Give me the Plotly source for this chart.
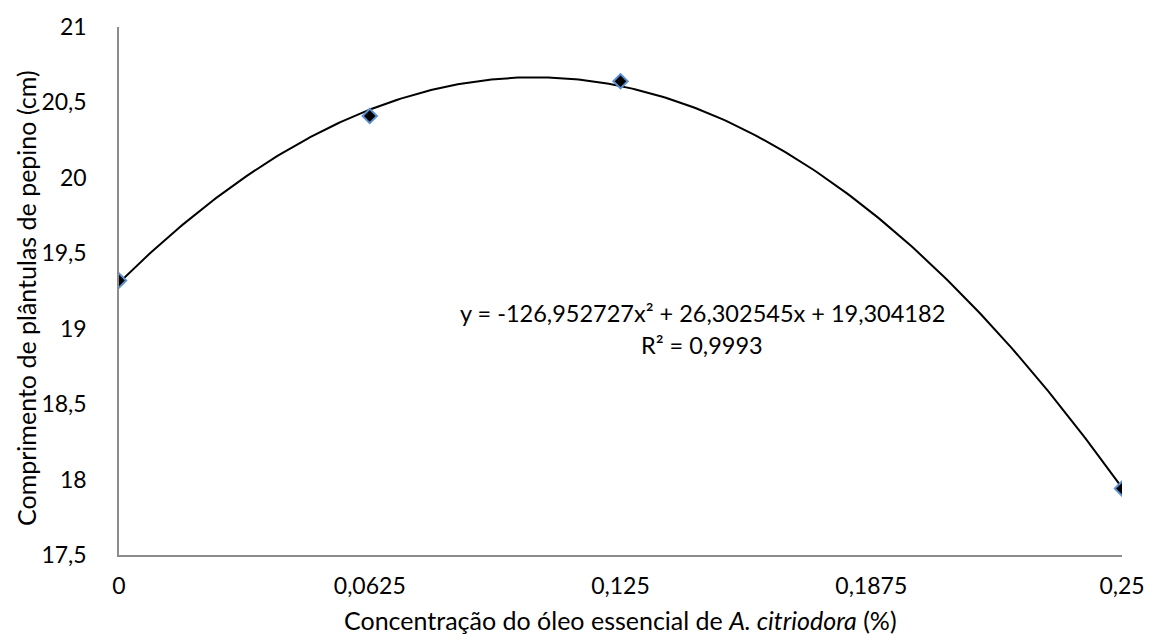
import numpy as np
import plotly.graph_objects as go

# Data
concentracao = [0, 0.0625, 0.125, 0.25]
comprimento = [19.32, 20.41, 20.64, 17.94]
x_tick_vals = [0, 0.0625, 0.125, 0.1875, 0.25]
x_tick_text = ["0", "0,0625", "0,125", "0,1875", "0,25"]
y_tick_vals = [17.5, 18, 18.5, 19, 19.5, 20, 20.5, 21]
y_tick_text = ["17,5", "18", "18,5", "19", "19,5", "20", "20,5", "21"]
# Polynomial trendline coefficients as displayed (a x^2 + b x + c)
trend_coefs = [-126.952727, 26.302545, 19.304182]
equation_text = "y = -126,952727x² + 26,302545x + 19,304182"
r2_text = "R² = 0,9993"
x_title = "Concentração do óleo essencial de <i>A. citriodora</i> (%)"
y_title = "Comprimento de plântulas de pepino (cm)"

FONT = "Lato"
GRAY = "#8c8c8c"
L, R, T, B = 119, 25, 27, 89
W, H = 1157, 644

xs = np.linspace(concentracao[0], concentracao[-1], 300)
ys = np.polyval(trend_coefs, xs)

fig = go.Figure()
fig.add_trace(go.Scatter(
    x=xs, y=ys, mode="lines",
    line=dict(color="black", width=2),
    hoverinfo="skip", showlegend=False,
))
fig.add_trace(go.Scatter(
    x=concentracao, y=comprimento, mode="markers",
    marker=dict(symbol="diamond", size=11, color="black",
                line=dict(color="#5b8fd0", width=2)),
    showlegend=False,
))

fig.update_layout(
    width=W, height=H,
    margin=dict(l=L, r=R, t=T, b=B),
    plot_bgcolor="white", paper_bgcolor="white",
    font=dict(family=FONT, size=23, color="black"),
    xaxis=dict(
        range=[0, 0.25], tickvals=x_tick_vals, ticktext=x_tick_text,
        showgrid=False, zeroline=False, showline=True, linecolor=GRAY, linewidth=1.5,
        ticks="", ticklabelstandoff=10,
        tickfont=dict(family=FONT, size=23),
    ),
    yaxis=dict(
        range=[17.5, 21], tickvals=y_tick_vals, ticktext=y_tick_text,
        showgrid=False, zeroline=False, showline=True, linecolor=GRAY, linewidth=1.5,
        ticks="", ticklabelstandoff=26,
        tickfont=dict(family=FONT, size=23),
    ),
)

pw = W - L - R
ph = H - T - B
def px_to_paper(px, py):
    return (px - L) / pw, (H - B - py) / ph

ex, ey = px_to_paper(708, 313)
rx, ry = px_to_paper(708, 345)
fig.add_annotation(text=equation_text, x=ex, y=ey, xref="paper", yref="paper",
                   xanchor="center", yanchor="middle", showarrow=False,
                   font=dict(family=FONT, size=23.5))
fig.add_annotation(text=r2_text, x=rx, y=ry, xref="paper", yref="paper",
                   xanchor="center", yanchor="middle", showarrow=False,
                   font=dict(family=FONT, size=23.5))

tx, ty = px_to_paper(625, 620)
fig.add_annotation(text=x_title, x=tx, y=ty, xref="paper", yref="paper",
                   xanchor="center", yanchor="middle", showarrow=False,
                   font=dict(family=FONT, size=25))
yx, yy = px_to_paper(25, 298)
fig.add_annotation(text=y_title, x=yx, y=yy, xref="paper", yref="paper",
                   xanchor="center", yanchor="middle", showarrow=False,
                   textangle=-90, font=dict(family=FONT, size=25))

fig.write_html("out.html")
